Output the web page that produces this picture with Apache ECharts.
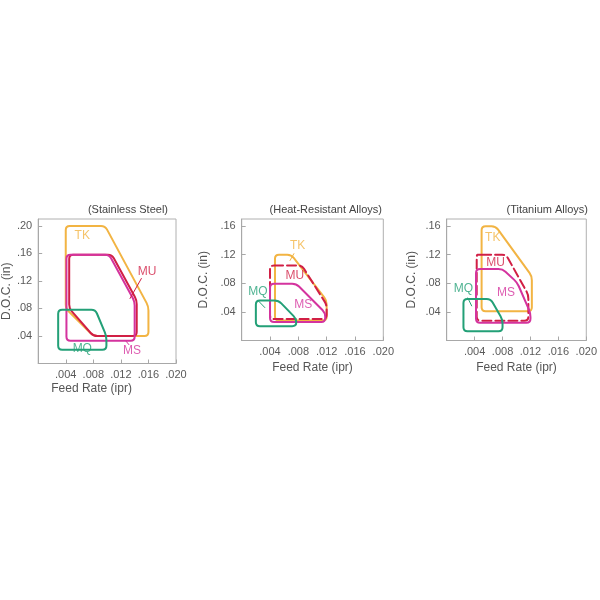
<!DOCTYPE html>
<html><head><meta charset="utf-8">
<script src="https://cdn.jsdelivr.net/npm/echarts@6/dist/echarts.min.js"></script>
<style>html,body{margin:0;padding:0;background:#fff}#c{width:600px;height:600px}</style>
</head><body><div id="c"></div>
<script>
// ---- data ----
const panelTitles = ['(Stainless Steel)', '(Heat-Resistant Alloys)', '(Titanium Alloys)'];
const xTickLabels = ['.004', '.008', '.012', '.016', '.020'];
const yTickLabels = ['.04', '.08', '.12', '.16', '.20'];
const xAxisName = 'Feed Rate (ipr)';
const yAxisName = 'D.O.C. (in)';
const yMaxByPanel = [0.21, 0.17, 0.17];
const products = ['TK', 'MU', 'MS', 'MQ'];

// Stainless Steel (feed, doc)
const ssTK = [[0.004,0.200],[0.0097,0.200],[0.016,0.083],[0.016,0.040],[0.008,0.040],[0.004,0.080]];
const ssMU = [[0.0045,0.158],[0.0107,0.158],[0.0143,0.092],[0.0143,0.040],[0.008,0.040],[0.0045,0.080]];
const ssMS = [[0.0041,0.158],[0.0103,0.158],[0.0140,0.090],[0.0140,0.033],[0.0041,0.033]];
const ssMQ = [[0.0029,0.078],[0.0083,0.078],[0.0099,0.040],[0.0099,0.020],[0.0029,0.020]];
const ssLabelPos = [[0.0064,0.186],[0.0158,0.134],[0.0136,0.019],[0.0064,0.022]];
const ssLeaders = [['MU',[[0.0150,0.124],[0.0133,0.094]]],['MS',[[0.0127,0.033],[0.0132,0.027]]]];

// Heat-Resistant Alloys
const hrTK = [[0.0047,0.120],[0.0070,0.120],[0.0120,0.056],[0.0120,0.028],[0.0047,0.028]];
const hrMU = [[0.0040,0.105],[0.0085,0.105],[0.0120,0.050],[0.0120,0.030],[0.0040,0.030]];
const hrMS = [[0.0040,0.0795],[0.0077,0.0795],[0.0118,0.0386],[0.0118,0.026],[0.0040,0.026]];
const hrMQ = [[0.0020,0.056],[0.0052,0.056],[0.0077,0.0305],[0.0077,0.020],[0.0020,0.020]];
const hrLabelPos = [[0.0079,0.133],[0.0075,0.091],[0.0087,0.050],[0.0023,0.068]];
const hrLeaders = [['TK',[[0.0074,0.122],[0.0068,0.1115]]],['MQ',[[0.0023,0.056],[0.0033,0.0457]]]];

// Titanium Alloys
const tiTK = [[0.0050,0.160],[0.0070,0.160],[0.0122,0.090],[0.0122,0.041],[0.0050,0.041]];
const tiMU = [[0.0045,0.120],[0.0085,0.120],[0.0117,0.064],[0.0117,0.0276],[0.0043,0.0276],[0.0043,0.120]];
const tiMS = [[0.0042,0.100],[0.0080,0.100],[0.0101,0.081],[0.0120,0.0385],[0.0120,0.025],[0.0042,0.025]];
const tiMQ = [[0.0024,0.058],[0.0063,0.058],[0.0080,0.029],[0.0080,0.013],[0.0024,0.013]];
const tiLabelPos = [[0.0066,0.1445],[0.0070,0.109],[0.0085,0.067],[0.0024,0.072]];
const tiLeaders = [['MQ',[[0.0030,0.060],[0.0036,0.048]]]];

// ---- style ----
const colors = {TK:'#F2B443', MU:'#D11F45', MS:'#D4339E', MQ:'#23A077'};
const dashed = [[], ['MU'], ['MU']];
const grids = [
  {left:37.5, top:219, width:138.5, height:144.5},
  {left:241.7, top:219, width:141.6, height:121.5},
  {left:446.7, top:219, width:142.6, height:121.5}
];
const titleRight = [168, 382, 588];
const yNameGap = [24, 32, 29];
const xNameGap = [19.5, 21.5, 21.5];
const xNamePad = [[0,31,0,0],[0,0,0,0],[0,0,0,0]];
const FONT = 'Liberation Sans, Arial, sans-serif';
const CORNER_R = 4;

const polys = [
  {TK:ssTK, MU:ssMU, MS:ssMS, MQ:ssMQ},
  {TK:hrTK, MU:hrMU, MS:hrMS, MQ:hrMQ},
  {TK:tiTK, MU:tiMU, MS:tiMS, MQ:tiMQ}
];
const labelPos = [ssLabelPos, hrLabelPos, tiLabelPos];
const leaders = [ssLeaders, hrLeaders, tiLeaders];

// closed outline with rounded corners, built from pixel coords given by the axes
function roundedPath(pts, r) {
  const n = pts.length;
  const f = v => v.toFixed(2);
  const cut = (v, w) => {
    const dx = w[0]-v[0], dy = w[1]-v[1], d = Math.hypot(dx, dy) || 1;
    const t = Math.min(r/d, 0.45);
    return [v[0]+dx*t, v[1]+dy*t];
  };
  let s = '';
  for (let i = 0; i <= n; i++) {
    const v = pts[i % n], prev = pts[(i-1+n) % n], next = pts[(i+1) % n];
    const a = cut(v, prev), b = cut(v, next);
    if (i === 0) s += 'M' + f(b[0]) + ' ' + f(b[1]);
    else s += 'L' + f(a[0]) + ' ' + f(a[1]) + 'Q' + f(v[0]) + ' ' + f(v[1]) + ' ' + f(b[0]) + ' ' + f(b[1]);
  }
  return s;
}

const xAxes = [], yAxes = [], series = [], graphics = [];
grids.forEach((g, i) => {
  xAxes.push({
    type:'value', gridIndex:i, min:0, max:0.02, interval:0.004,
    axisLine:{show:true, lineStyle:{color:'#a8a8a8', width:1}},
    axisTick:{show:true, inside:true, length:4, lineStyle:{color:'#a8a8a8'}},
    splitLine:{show:false},
    axisLabel:{show:true, showMinLabel:false, showMaxLabel:true, margin:6, color:'#5a5a5a', fontSize:11, fontFamily:FONT,
      formatter: v => { const k = Math.round(v/0.004); return k>=1 && k<=xTickLabels.length ? xTickLabels[k-1] : ''; }},
    name:xAxisName, nameLocation:'middle', nameGap:xNameGap[i],
    nameTextStyle:{color:'#555', fontSize:12, fontFamily:FONT, padding:xNamePad[i]}
  });
  yAxes.push({
    type:'value', gridIndex:i, min:0, max:yMaxByPanel[i], interval:0.04,
    axisLine:{show:true, lineStyle:{color:'#a8a8a8', width:1}},
    axisTick:{show:true, inside:true, length:4, lineStyle:{color:'#a8a8a8'}},
    splitLine:{show:false},
    axisLabel:{show:true, showMinLabel:false, showMaxLabel:false, margin:6, color:'#5a5a5a', fontSize:11, fontFamily:FONT,
      formatter: v => { const k = Math.round(v/0.04); return (Math.abs(v-k*0.04)<1e-9 && k>=1 && k<=yTickLabels.length) ? yTickLabels[k-1] : ''; }},
    name:yAxisName, nameLocation:'middle', nameGap:yNameGap[i], nameRotate:90,
    nameTextStyle:{color:'#555', fontSize:12, fontFamily:FONT}
  });
  ['TK','MU','MS','MQ'].forEach(p => {
    const poly = polys[i][p];
    const isDash = dashed[i].includes(p);
    series.push({
      type:'custom', xAxisIndex:i, yAxisIndex:i, coordinateSystem:'cartesian2d',
      data: poly, silent:true, animation:false, z:2,
      encode:{x:0, y:1},
      renderItem: (params, api) => {
        if (params.dataIndex !== 0) return null;
        const px = [];
        for (let k = 0; k < poly.length; k++) px.push(api.coord([api.value(0, k), api.value(1, k)]));
        return {
          type:'path',
          shape:{pathData: roundedPath(px, CORNER_R)},
          style:{stroke:colors[p], fill:'none', lineWidth:2, lineDash: isDash ? [9,4] : null, lineJoin:'round', lineCap:'round'}
        };
      }
    });
  });
  leaders[i].forEach(([p, pts]) => {
    series.push({type:'line', xAxisIndex:i, yAxisIndex:i, data:pts, showSymbol:false, symbol:'none', silent:true,
      animation:false, lineStyle:{color:colors[p], width:1}, z:3});
  });
  series.push({
    type:'scatter', xAxisIndex:i, yAxisIndex:i, symbolSize:0, silent:true, animation:false, z:4,
    data: products.map((p, k) => ({name:p, value:labelPos[i][k],
      label:{show:true, position:'inside', formatter:p, color:colors[p], fontSize:12, fontFamily:FONT}}))
  });
  graphics.push({type:'text', x:titleRight[i], y:210, style:{text:panelTitles[i], textAlign:'right', textVerticalAlign:'middle',
    fill:'#444', fontSize:11, fontFamily:FONT}});
});

const chart = echarts.init(document.getElementById('c'), null, {renderer:'canvas'});
chart.setOption({
  animation:false,
  backgroundColor:'#fff',
  grid: grids.map(g => Object.assign({show:true, borderColor:'#b0b0b0', borderWidth:1, backgroundColor:'transparent', containLabel:false}, g)),
  xAxis:xAxes, yAxis:yAxes, series:series, graphic:graphics
});
</script></body></html>
